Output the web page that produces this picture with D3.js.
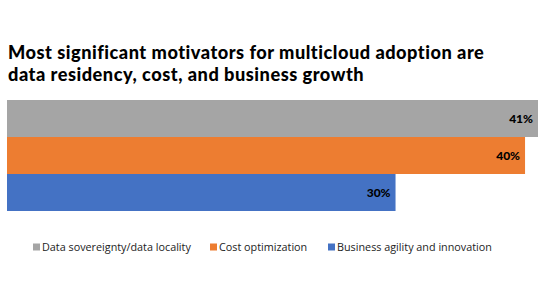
<!DOCTYPE html>
<html><head><meta charset="utf-8">
<script src="https://cdn.jsdelivr.net/npm/d3@7"></script>
<style>body{margin:0;background:#fff}svg{display:block}</style>
</head><body>
<svg id="c" width="545" height="300"></svg>
<script>
const categories = ["Data sovereignty/data locality", "Cost optimization", "Business agility and innovation"];
const values = [41, 40, 30];
const colors = ["#A5A5A5", "#ED7D31", "#4472C4"];
const titleLines = ["Most significant motivators for multicloud adoption are", "data residency, cost, and business growth"];

const svg = d3.select("#c");
const font = "'Open Sans', sans-serif";
const tfont = "Lato, sans-serif";

svg.append("g").selectAll("text").data(titleLines).join("text")
  .attr("x", 8).attr("y", (d,i) => 59 + i*22)
  .attr("font-family", tfont).attr("font-weight", 900).attr("font-size", 18.2)
  .attr("letter-spacing", 0.5)
  .attr("fill", "#000").text(d => d);

const x = d3.scaleLinear().domain([0, 41]).range([7, 538]);
const y = d3.scaleBand().domain(categories).range([100, 211]).padding(0);

svg.append("g").selectAll("rect").data(categories).join("rect")
  .attr("x", x(0)).attr("y", d => y(d))
  .attr("width", (d,i) => x(values[i]) - x(0))
  .attr("height", y.bandwidth())
  .attr("fill", (d,i) => colors[i]);

svg.append("g").selectAll("text").data(categories).join("text")
  .attr("x", (d,i) => x(values[i]) - 5)
  .attr("y", d => y(d) + y.bandwidth()/2 + 4.5)
  .attr("text-anchor", "end")
  .attr("font-family", tfont).attr("font-weight", 900).attr("font-size", 12)
  .attr("fill", "#000").text((d,i) => values[i] + "%");

const legendX = [33, 210, 328];
const lg = svg.append("g").selectAll("g").data(categories).join("g")
  .attr("transform", (d,i) => `translate(${legendX[i]},0)`);
lg.append("rect").attr("x", 0).attr("y", 243.5).attr("width", 7).attr("height", 7)
  .attr("fill", (d,i) => colors[i]);
lg.append("text").attr("x", 9).attr("y", 250.5)
  .attr("font-family", font).attr("font-size", 10.8).attr("fill", "#222").text(d => d);
</script>
</body></html>
